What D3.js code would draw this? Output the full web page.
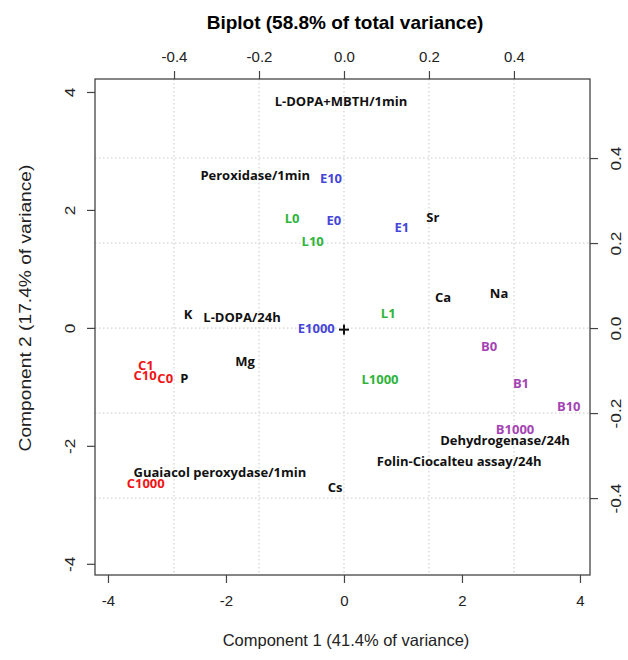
<!DOCTYPE html>
<head>
  <meta charset="utf-8">
  <style>
  body { margin: 0; background: #fff; }
  text { font-family: 'Liberation Sans', Arial, sans-serif; }
  .pt { font-family: 'Open Sans', sans-serif; font-weight: 700; font-size: 13px; }
  .grid line { stroke: #c8c8c8; stroke-dasharray: 1.5 2.5; }
  .axis path { display: none; }
  .axis line { stroke: #444; stroke-width: 1.2; }
  .axis text { font-size: 15px; fill: #222; }
  </style>
</head>
<body>
  <svg id="chart"></svg>
  <script src="https://d3js.org/d3.v7.min.js"></script>
  <script>

  var width = 628,
      height = 660;

  // sample scores (component 1 / component 2)
  var scoreNames = ['E10', 'E0', 'E1', 'E1000',
                    'L0', 'L10', 'L1', 'L1000',
                    'B0', 'B1', 'B10', 'B1000',
                    'C1', 'C10', 'C0', 'C1000'];
  var scoreX = [-0.22, -0.17, 0.98, -0.47,
                -0.88, -0.53, 0.75, 0.61,
                 2.46, 3.00, 3.81, 2.90,
                -3.36, -3.37, -3.03, -3.36];
  var scoreY = [2.54, 1.83, 1.71, -0.01,
                1.86, 1.47, 0.25, -0.88,
               -0.32, -0.95, -1.34, -1.73,
               -0.63, -0.80, -0.85, -2.63];
  var groupOf = ['E', 'E', 'E', 'E', 'L', 'L', 'L', 'L',
                 'B', 'B', 'B', 'B', 'C', 'C', 'C', 'C'];

  // variable loadings (top / right axes)
  var loadNames = ['L-DOPA+MBTH/1min', 'Peroxidase/1min', 'Sr', 'Ca', 'Na',
                   'K', 'L-DOPA/24h', 'Mg', 'P', 'Dehydrogenase/24h',
                   'Folin-Ciocalteu assay/24h', 'Guaiacol peroxydase/1min', 'Cs'];
  var loadX = [-0.007, -0.209, 0.209, 0.233, 0.365,
               -0.367, -0.240, -0.233, -0.376, 0.379,
                0.271, -0.292, -0.021];
  var loadY = [0.534, 0.360, 0.261, 0.073, 0.082,
               0.033, 0.026, -0.078, -0.118, -0.264,
              -0.315, -0.339, -0.376];

  var mainTicks = [-4, -2, 0, 2, 4];
  var loadTicks = [-0.4, -0.2, 0, 0.2, 0.4];

  var groupColor = d3.scaleOrdinal()
    .domain(['E', 'L', 'B', 'C'])
    .range(['#4646d8', '#2fb43a', '#a444b4', '#f01414']);

  var box = {left: 95, right: 590, top: 79, bottom: 575};

  var x = d3.scaleLinear().domain([-4.22, 4.17]).range([box.left, box.right]);
  var y = d3.scaleLinear().domain([-4.19, 4.22]).range([box.bottom, box.top]);
  var x2 = d3.scaleLinear().domain([-0.586, 0.579]).range([box.left, box.right]);
  var y2 = d3.scaleLinear().domain([-0.581, 0.586]).range([box.bottom, box.top]);

  // R style labels: plain hyphen for the minus sign
  var fmtInt = function(d) { return d3.format('d')(d).replace('\u2212', '-'); };
  var fmtDec = function(d) { return d3.format('.1f')(d).replace('\u2212', '-'); };

  var svg = d3.select('#chart')
    .attr('width', width)
    .attr('height', height);

  // dotted grid at the loading ticks
  var grid = svg.append('g').attr('class', 'grid');
  grid.selectAll('.gx')
    .data(loadTicks)
    .enter().append('line')
      .attr('x1', function(d) { return x2(d); })
      .attr('x2', function(d) { return x2(d); })
      .attr('y1', box.top)
      .attr('y2', box.bottom);
  grid.selectAll('.gy')
    .data(loadTicks)
    .enter().append('line')
      .attr('x1', box.left)
      .attr('x2', box.right)
      .attr('y1', function(d) { return y2(d); })
      .attr('y2', function(d) { return y2(d); });

  // axes
  svg.append('g')
    .attr('class', 'axis')
    .attr('transform', 'translate(0,' + box.bottom + ')')
    .call(d3.axisBottom(x).tickValues(mainTicks).tickSize(8).tickPadding(12).tickFormat(fmtInt));

  svg.append('g')
    .attr('class', 'axis')
    .attr('transform', 'translate(0,' + box.top + ')')
    .call(d3.axisTop(x2).tickValues(loadTicks).tickSize(8).tickPadding(9).tickFormat(fmtDec));

  var leftAxis = svg.append('g')
    .attr('class', 'axis')
    .attr('transform', 'translate(' + box.left + ',0)')
    .call(d3.axisLeft(y).tickValues(mainTicks).tickSize(8).tickFormat(fmtInt));
  leftAxis.selectAll('text')
    .attr('x', null).attr('dy', null)
    .attr('text-anchor', 'middle')
    .attr('transform', 'translate(-25,0) rotate(-90) scale(1.15,1)')
    .attr('dy', '0.35em');

  var rightAxis = svg.append('g')
    .attr('class', 'axis')
    .attr('transform', 'translate(' + box.right + ',0)')
    .call(d3.axisRight(y2).tickValues(loadTicks).tickSize(8).tickFormat(fmtDec));
  rightAxis.selectAll('text')
    .attr('x', null).attr('dy', null)
    .attr('text-anchor', 'middle')
    .attr('transform', 'translate(26,0) rotate(-90) scale(1.15,1)')
    .attr('dy', '0.35em');

  // frame
  svg.append('rect')
    .attr('x', box.left)
    .attr('y', box.top)
    .attr('width', box.right - box.left)
    .attr('height', box.bottom - box.top)
    .attr('fill', 'none')
    .attr('stroke', '#444')
    .attr('stroke-width', 1.3);

  // titles
  svg.append('text')
    .attr('x', 345).attr('y', 29)
    .attr('text-anchor', 'middle')
    .style('font-size', '19px')
    .style('font-weight', 700)
    .text('Biplot (58.8% of total variance)');

  svg.append('text')
    .attr('x', 346).attr('y', 646)
    .attr('text-anchor', 'middle')
    .style('font-size', '16.5px')
    .style('fill', '#222')
    .text('Component 1 (41.4% of variance)');

  svg.append('text')
    .attr('transform', 'translate(25,308) rotate(-90) scale(1.2,1)')
    .attr('text-anchor', 'middle')
    .attr('dy', '0.35em')
    .style('font-size', '16px')
    .style('fill', '#222')
    .text('Component 2 (17.4% of variance)');

  // loadings as labels
  svg.append('g').selectAll('text')
    .data(loadNames)
    .enter().append('text')
      .attr('class', 'pt')
      .attr('x', function(d, i) { return x2(loadX[i]); })
      .attr('y', function(d, i) { return y2(loadY[i]); })
      .attr('text-anchor', 'middle')
      .attr('dy', '0.35em')
      .style('fill', '#111')
      .text(function(d) { return d; });

  // sample scores as labels
  svg.append('g').selectAll('text')
    .data(scoreNames)
    .enter().append('text')
      .attr('class', 'pt')
      .attr('x', function(d, i) { return x(scoreX[i]); })
      .attr('y', function(d, i) { return y(scoreY[i]); })
      .attr('text-anchor', 'middle')
      .attr('dy', '0.35em')
      .style('fill', function(d, i) { return groupColor(groupOf[i]); })
      .text(function(d) { return d; });

  // origin marker
  svg.append('g')
    .attr('transform', 'translate(' + x(0) + ',' + y(-0.03) + ')')
    .selectAll('line')
    .data([[-5, 0, 5, 0], [0, -5, 0, 5]])
    .enter().append('line')
      .attr('x1', function(d) { return d[0]; })
      .attr('y1', function(d) { return d[1]; })
      .attr('x2', function(d) { return d[2]; })
      .attr('y2', function(d) { return d[3]; })
      .attr('stroke', '#111')
      .attr('stroke-width', 2);

  </script>
</body>
